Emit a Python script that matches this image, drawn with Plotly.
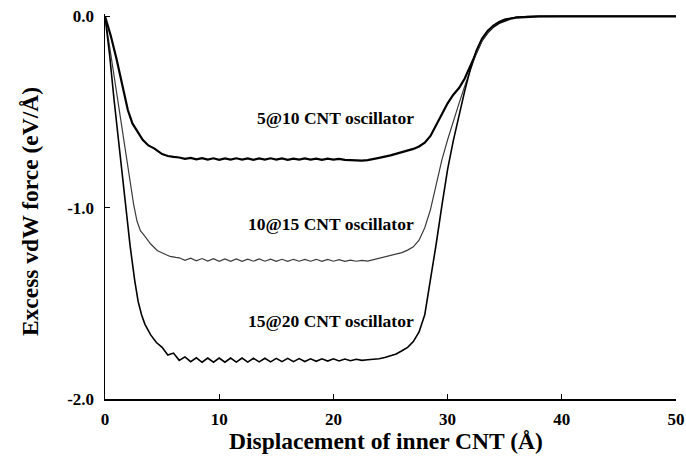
import plotly.graph_objects as go

# ---- data ----
x_5at10 = [0, 0.5, 1.0, 1.5, 2.0, 2.4, 2.9, 3.3, 3.8, 4.3, 5.0, 5.5, 6.0,
           6.5, 7.0, 7.5, 8.0, 8.5, 9.0, 9.5, 10.0, 10.5, 11.0, 11.5, 12.0, 12.5, 13.0,
           13.5, 14.0, 14.5, 15.0, 15.5, 16.0, 16.5, 17.0, 17.5, 18.0, 18.5, 19.0, 19.5,
           20.0, 20.5, 21.0, 21.5, 22.0, 22.5, 23.0, 23.5,
           24.0, 25.0, 26.0, 27.0, 27.5, 28.0, 28.5, 29.0, 29.5, 30.0, 30.5, 31.0, 31.5,
           32.0, 32.5, 33.0, 33.5, 34.0, 34.5, 35.0, 35.5, 36.0, 37.0, 38.0, 40.0, 45.0, 50.0]
y_5at10 = [0, -0.10, -0.22, -0.35, -0.49, -0.56, -0.61, -0.645, -0.675, -0.69, -0.72, -0.73, -0.735,
           -0.738, -0.745, -0.740, -0.748, -0.741, -0.749, -0.742, -0.750, -0.743, -0.749, -0.742, -0.749, -0.743, -0.750,
           -0.743, -0.749, -0.742, -0.749, -0.743, -0.750, -0.744, -0.749, -0.743, -0.749, -0.744, -0.750, -0.744,
           -0.749, -0.745, -0.750, -0.752, -0.754, -0.754, -0.752, -0.747,
           -0.740, -0.727, -0.712, -0.693, -0.680, -0.660, -0.625, -0.570, -0.510, -0.455, -0.410, -0.375, -0.325,
           -0.258, -0.185, -0.125, -0.085, -0.055, -0.035, -0.022, -0.013, -0.007, -0.002, 0, 0, 0, 0]

x_10at15 = [0, 0.5, 1.0, 1.5, 2.0, 2.5, 2.8, 3.1, 3.5, 4.0, 4.6, 5.2, 5.7, 6.2,
            6.5, 7.0, 7.5, 8.0, 8.5, 9.0, 9.5, 10.0, 10.5, 11.0, 11.5, 12.0, 12.5, 13.0,
            13.5, 14.0, 14.5, 15.0, 15.5, 16.0, 16.5, 17.0, 17.5, 18.0, 18.5, 19.0, 19.5,
            20.0, 20.5, 21.0, 21.5, 22.0, 22.5, 23.0,
            23.5, 24.0, 24.5, 25.0, 25.5, 26.0, 26.5, 27.0, 27.5, 28.0, 28.5, 29.0, 29.5,
            30.0, 30.5, 31.0, 31.5, 32.0, 32.5, 33.0, 33.5, 34.0, 34.5, 35.0, 35.5, 36.0,
            37.0, 38.0, 40.0, 45.0, 50.0]
y_10at15 = [0, -0.20, -0.40, -0.60, -0.80, -0.98, -1.07, -1.12, -1.15, -1.19, -1.225, -1.24, -1.255, -1.26,
            -1.262, -1.275, -1.264, -1.278, -1.266, -1.279, -1.267, -1.280, -1.268, -1.280, -1.268, -1.281, -1.269, -1.280,
            -1.268, -1.280, -1.269, -1.281, -1.270, -1.281, -1.270, -1.280, -1.270, -1.280, -1.270, -1.281, -1.271,
            -1.280, -1.272, -1.281, -1.274, -1.280, -1.276, -1.279,
            -1.272, -1.265, -1.258, -1.250, -1.243, -1.235, -1.222, -1.205, -1.170, -1.105, -1.010, -0.880, -0.750,
            -0.645, -0.545, -0.455, -0.365, -0.275, -0.195, -0.130, -0.085, -0.050, -0.030, -0.017, -0.009, -0.005,
            -0.001, 0, 0, 0, 0]

x_15at20 = [0, 0.4, 0.8, 1.3, 1.75, 2.2, 2.6, 2.9, 3.2, 3.5, 4.0, 4.5, 5.0, 5.5, 6.0,
            6.5, 7.0, 7.5, 8.0, 8.5, 9.0, 9.5, 10.0, 10.5, 11.0, 11.5, 12.0, 12.5, 13.0,
            13.5, 14.0, 14.5, 15.0, 15.5, 16.0, 16.5, 17.0, 17.5, 18.0, 18.5, 19.0, 19.5,
            20.0, 20.5, 21.0, 21.5, 22.0, 22.5, 23.0,
            23.5, 24.0, 24.5, 25.0, 25.5, 26.0, 26.5, 27.0, 27.5, 28.0, 28.5, 29.0, 29.5,
            30.0, 30.5, 31.0, 31.5, 32.0, 32.5, 33.0, 33.5, 34.0, 34.5, 35.0, 35.5, 36.0,
            37.0, 38.0, 40.0, 45.0, 50.0]
y_15at20 = [0, -0.20, -0.44, -0.71, -0.96, -1.20, -1.38, -1.49, -1.56, -1.61, -1.665, -1.705, -1.730, -1.770, -1.760,
            -1.798, -1.780, -1.805, -1.785, -1.808, -1.786, -1.808, -1.786, -1.808, -1.786, -1.807, -1.786, -1.807, -1.787,
            -1.806, -1.787, -1.806, -1.788, -1.805, -1.788, -1.805, -1.789, -1.804, -1.790, -1.803, -1.790, -1.802,
            -1.790, -1.801, -1.791, -1.800, -1.792, -1.798, -1.795,
            -1.793, -1.790, -1.783, -1.775, -1.765, -1.748, -1.730, -1.700, -1.650, -1.560, -1.380, -1.190, -0.990,
            -0.800, -0.650, -0.515, -0.390, -0.275, -0.180, -0.115, -0.075, -0.047, -0.028, -0.016, -0.009, -0.005,
            -0.001, 0, 0, 0, 0]

series_labels = ["5@10 CNT oscillator", "10@15 CNT oscillator", "15@20 CNT oscillator"]
label_y = [-0.534, -1.084, -1.59]

x_ticks = [0, 10, 20, 30, 40, 50]
x_ticktext = ["0", "10", "20", "30", "40", "50"]
y_ticks = [0.0, -1.0, -2.0]
y_ticktext = ["0.0", "-1.0", "-2.0"]

x_title = "Displacement of inner CNT (Å)"
y_title = "Excess vdW force (eV/Å)"

FONT = "Liberation Serif"
BOLD = dict(family=FONT, color="#000000", weight="bold")

fig = go.Figure()
fig.add_trace(go.Scatter(x=x_5at10, y=y_5at10, mode="lines",
                         line=dict(color="#000000", width=2.2), showlegend=False))
fig.add_trace(go.Scatter(x=x_10at15, y=y_10at15, mode="lines",
                         line=dict(color="#3a3a3a", width=1.2), showlegend=False))
fig.add_trace(go.Scatter(x=x_15at20, y=y_15at20, mode="lines",
                         line=dict(color="#000000", width=1.6), showlegend=False))

for txt, yy in zip(series_labels, label_y):
    fig.add_annotation(x=27.2, y=yy, text=txt, showarrow=False, xanchor="right", yanchor="middle",
                       font=dict(BOLD, size=17.5))

# axis titles as annotations (exact placement)
fig.add_annotation(xref="paper", yref="paper", x=-0.131, y=0.486, text=y_title, textangle=-90,
                   showarrow=False, xanchor="center", yanchor="middle", font=dict(BOLD, size=23.5))
fig.add_annotation(xref="paper", yref="paper", x=0.492, y=-0.109, text=x_title,
                   showarrow=False, xanchor="center", yanchor="middle", font=dict(BOLD, size=23.5))

fig.update_layout(
    width=686, height=463,
    margin=dict(l=105, r=10, t=14, b=64, autoexpand=False),
    paper_bgcolor="white", plot_bgcolor="white",
    font=dict(family=FONT, color="#000000"),
    hovermode=False,
)
fig.update_xaxes(range=[0, 50], tickvals=x_ticks, ticktext=x_ticktext,
                 showline=True, linecolor="#000000", linewidth=1.5, mirror=False,
                 ticks="inside", ticklen=5, tickwidth=1.2, tickcolor="#000000",
                 showgrid=False, zeroline=False, automargin=False, ticklabelstandoff=4,
                 tickfont=dict(BOLD, size=17))
fig.update_yaxes(range=[-2.0, 0.012], tickvals=y_ticks, ticktext=y_ticktext,
                 showline=True, linecolor="#000000", linewidth=1.5, mirror=False,
                 ticks="inside", ticklen=5, tickwidth=1.2, tickcolor="#000000",
                 showgrid=False, zeroline=False, automargin=False, ticklabelstandoff=6,
                 tickfont=dict(BOLD, size=17))

fig.write_html("out.html", config={"displayModeBar": False, "staticPlot": True},
               post_script="document.body.style.margin='0';document.body.style.overflow='hidden';")
